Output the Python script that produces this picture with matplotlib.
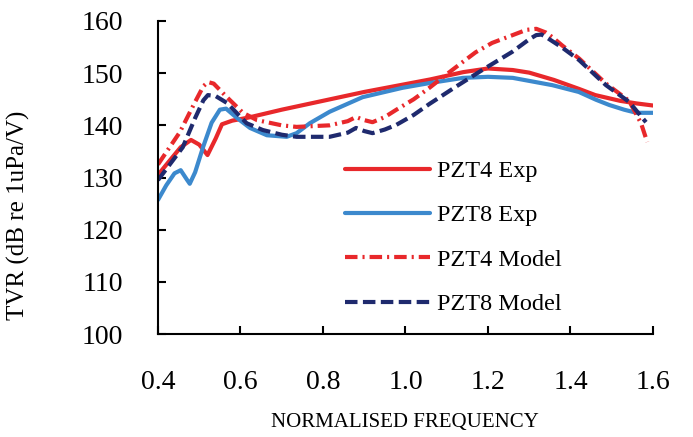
import matplotlib
matplotlib.use("Agg")
import matplotlib.pyplot as plt

# ---- data ----
x_pzt4_exp = [0.40, 0.43, 0.455, 0.48, 0.50, 0.52, 0.54, 0.555, 0.58, 0.62, 0.70, 0.80, 0.90,
              1.00, 1.06, 1.14, 1.20, 1.26, 1.30, 1.36, 1.42, 1.46, 1.52, 1.56, 1.60]
y_pzt4_exp = [130.5, 133.4, 135.8, 137.2, 136.3, 134.3, 137.5, 140.2, 140.9, 141.5, 143.0, 144.7, 146.4,
              147.9, 148.8, 150.2, 150.9, 150.6, 150.1, 148.7, 147.0, 145.8, 144.7, 144.2, 143.8]

x_pzt8_exp = [0.40, 0.42, 0.44, 0.455, 0.47, 0.477, 0.49, 0.51, 0.53, 0.55, 0.565, 0.59, 0.623,
              0.664, 0.712, 0.736, 0.768, 0.816, 0.896, 0.993, 1.058, 1.14, 1.20, 1.26, 1.356,
              1.42, 1.462, 1.494, 1.53, 1.56, 1.60]
y_pzt8_exp = [125.7, 128.5, 130.8, 131.4, 129.6, 128.8, 131.0, 136.0, 140.5, 143.0, 143.2, 141.5, 139.5,
              138.1, 137.8, 138.5, 140.4, 142.6, 145.4, 147.2, 148.1, 149.1, 149.3, 149.1, 147.7,
              146.4, 144.9, 143.9, 143.0, 142.4, 142.4]

x_pzt4_model = [0.40, 0.453, 0.49, 0.51, 0.521, 0.535, 0.567, 0.606, 0.64, 0.70, 0.736, 0.816, 0.86,
                0.88, 0.90, 0.92, 0.95, 0.978, 1.02, 1.058, 1.10, 1.138, 1.17, 1.21, 1.25, 1.293,
                1.317, 1.34, 1.356, 1.38, 1.421, 1.486, 1.542, 1.571, 1.586]
y_pzt4_model = [132.5, 138.7, 144.5, 147.5, 148.3, 148.0, 145.4, 142.4, 141.0, 140.0, 139.7, 140.0, 140.8,
                141.6, 141.0, 140.6, 141.6, 143.0, 145.0, 147.2, 149.8, 152.1, 154.0, 155.8, 157.0, 158.3,
                158.5, 157.8, 156.9, 155.3, 152.8, 148.0, 144.7, 140.4, 136.8]

x_pzt8_model = [0.40, 0.46, 0.49, 0.51, 0.521, 0.54, 0.567, 0.615, 0.654, 0.70, 0.736, 0.816, 0.86,
                0.88, 0.90, 0.92, 0.95, 0.978, 1.02, 1.058, 1.12, 1.186, 1.259, 1.30, 1.317, 1.33,
                1.341, 1.38, 1.421, 1.486, 1.542, 1.583]
y_pzt8_model = [129.5, 135.8, 141.4, 144.8, 145.8, 145.6, 144.3, 140.4, 139.1, 138.2, 137.8, 137.8, 138.6,
                139.5, 138.9, 138.5, 139.2, 140.1, 142.0, 144.1, 147.3, 150.6, 154.1, 156.5, 157.3, 157.4,
                156.9, 154.9, 152.5, 147.7, 144.5, 140.6]

x_ticks = [0.4, 0.6, 0.8, 1.0, 1.2, 1.4, 1.6]
x_tick_labels = ["0.4", "0.6", "0.8", "1.0", "1.2", "1.4", "1.6"]
y_ticks = [100, 110, 120, 130, 140, 150, 160]
labels = ["PZT4 Exp", "PZT8 Exp", "PZT4 Model", "PZT8 Model"]

RED = "#E8282B"
BLUE = "#3C89CD"
NAVY = "#1F2A6E"

plt.rcParams["font.family"] = ["Liberation Serif", "DejaVu Serif"]

fig = plt.figure(figsize=(6.93, 4.37), dpi=100)
ax = fig.add_axes([158 / 693, 103 / 437, 495 / 693, 313 / 437])

lw = 3.0
ax.plot(x_pzt4_exp, y_pzt4_exp, color=RED, lw=lw, label=labels[0], solid_capstyle="round")
ax.plot(x_pzt8_exp, y_pzt8_exp, color=BLUE, lw=lw, label=labels[1], solid_capstyle="round")
ax.plot(x_pzt4_model, y_pzt4_model, color=RED, lw=lw, linestyle=(0, (3, 1.2, 0.5, 1.2)),
        label=labels[2])
ax.plot(x_pzt8_model, y_pzt8_model, color=NAVY, lw=lw, linestyle=(0, (3, 1.3)), label=labels[3])

ax.set_xlim(0.4, 1.6)
ax.set_ylim(100, 160)
ax.set_xticks(x_ticks)
ax.set_xticklabels(x_tick_labels)
ax.set_yticks(y_ticks)

for s in ["top", "right"]:
    ax.spines[s].set_visible(False)
for s in ["left", "bottom"]:
    ax.spines[s].set_linewidth(1.5)
    ax.spines[s].set_color("black")

ax.tick_params(axis="both", direction="in", length=6, width=1.5, labelsize=20)
ax.tick_params(axis="x", pad=26)
ax.tick_params(axis="y", pad=25)

fig.text(18 / 693, 1 - 215 / 437, "TVR (dB re 1uPa/V)", rotation=90, fontsize=18,
         ha="center", va="center")
fig.text(405 / 693, 1 - 423 / 437, "NORMALISED FREQUENCY", fontsize=15,
         ha="center", va="center")

leg = ax.legend(loc="upper left", bbox_to_anchor=(345 / 693, 1 - 160 / 437),
                bbox_transform=fig.transFigure, frameon=False, fontsize=17.5,
                handlelength=3.5, handletextpad=0.3, labelspacing=0.92,
                borderpad=0, borderaxespad=0)

fig.savefig("out.png", dpi=100)
